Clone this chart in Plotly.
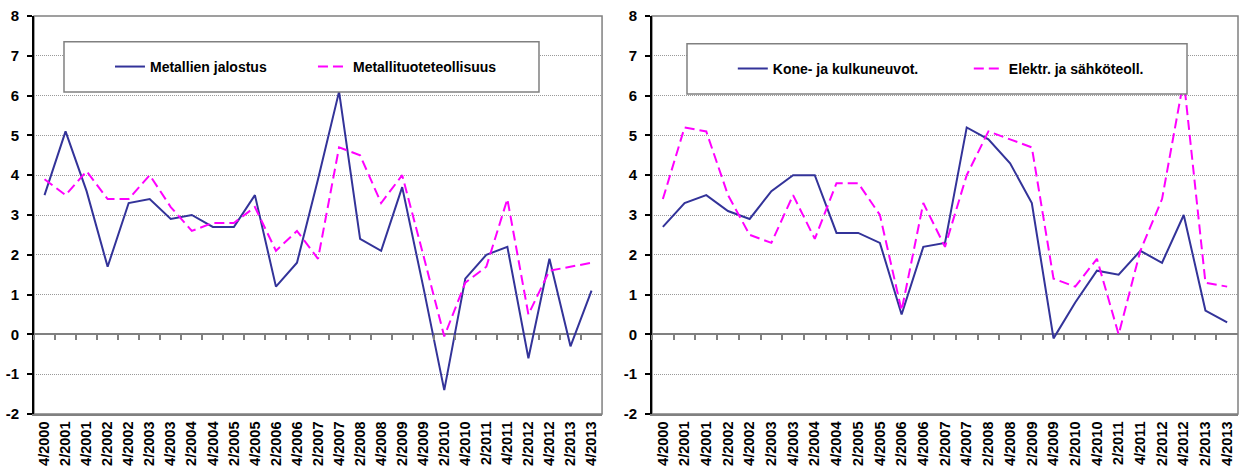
import plotly.graph_objects as go

categories = ["4/2000", "2/2001", "4/2001", "2/2002", "4/2002", "2/2003", "4/2003",
              "2/2004", "4/2004", "2/2005", "4/2005", "2/2006", "4/2006", "2/2007",
              "4/2007", "2/2008", "4/2008", "2/2009", "4/2009", "2/2010", "4/2010",
              "2/2011", "4/2011", "2/2012", "4/2012", "2/2013", "4/2013"]

metallien_jalostus = [3.5, 5.1, 3.6, 1.7, 3.3, 3.4, 2.9, 3.0, 2.7, 2.7, 3.5, 1.2, 1.8, 3.9,
                      6.1, 2.4, 2.1, 3.7, 1.2, -1.4, 1.4, 2.0, 2.2, -0.6, 1.9, -0.3, 1.1]
metallituoteteollisuus = [3.9, 3.5, 4.1, 3.4, 3.4, 4.0, 3.2, 2.6, 2.8, 2.8, 3.2, 2.1, 2.6, 1.9,
                          4.7, 4.5, 3.3, 4.0, 2.0, -0.05, 1.3, 1.7, 3.4, 0.5, 1.6, 1.7, 1.8]
kone_ja_kulkuneuvot = [2.7, 3.3, 3.5, 3.1, 2.9, 3.6, 4.0, 4.0, 2.55, 2.55, 2.3, 0.5, 2.2, 2.3,
                       5.2, 4.9, 4.3, 3.3, -0.1, 0.8, 1.6, 1.5, 2.1, 1.8, 3.0, 0.6, 0.3]
elektr_ja_sahkoteoll = [3.4, 5.2, 5.1, 3.5, 2.5, 2.3, 3.5, 2.4, 3.8, 3.8, 3.0, 0.6, 3.3, 2.2,
                        4.0, 5.1, 4.9, 4.7, 1.4, 1.2, 1.9, 0.0, 2.1, 3.4, 6.4, 1.3, 1.2]

y_tickvals = [-2, -1, 0, 1, 2, 3, 4, 5, 6, 7, 8]
y_ticktext = ["-2", "-1", "0", "1", "2", "3", "4", "5", "6", "7", "8"]

BLUE = "#333399"
MAGENTA = "#FF00FF"
FONT = "Liberation Sans"
GRAY = "#808080"

fig = go.Figure()

fig.add_trace(go.Scatter(x=categories, y=metallien_jalostus, name="Metallien jalostus",
                         mode="lines", line=dict(color=BLUE, width=2),
                         xaxis="x", yaxis="y", legend="legend"))
fig.add_trace(go.Scatter(x=categories, y=metallituoteteollisuus, name="Metallituoteteollisuus",
                         mode="lines", line=dict(color=MAGENTA, width=2, dash="10px,5px"),
                         xaxis="x", yaxis="y", legend="legend"))
fig.add_trace(go.Scatter(x=categories, y=kone_ja_kulkuneuvot, name="Kone- ja kulkuneuvot.",
                         mode="lines", line=dict(color=BLUE, width=2),
                         xaxis="x2", yaxis="y2", legend="legend2"))
fig.add_trace(go.Scatter(x=categories, y=elektr_ja_sahkoteoll, name="Elektr. ja sähköteoll.",
                         mode="lines", line=dict(color=MAGENTA, width=2, dash="10px,5px"),
                         xaxis="x2", yaxis="y2", legend="legend2"))
# invisible helper traces for the tick axes on the zero line
fig.add_trace(go.Scatter(x=categories, y=[None] * len(categories), xaxis="x3", yaxis="y",
                         showlegend=False, hoverinfo="skip"))
fig.add_trace(go.Scatter(x=categories, y=[None] * len(categories), xaxis="x4", yaxis="y2",
                         showlegend=False, hoverinfo="skip"))

tickfont = dict(family=FONT, size=14.5, color="black", weight="bold")
ytickfont = dict(family=FONT, size=15, color="black", weight="bold")

def xaxis_main(domain, anchor):
    return dict(domain=domain, anchor=anchor, type="category",
                categoryorder="array", categoryarray=categories,
                range=[-0.5, len(categories) - 0.5], automargin=False,
                tickangle=-90, ticks="", showline=True, linecolor=GRAY, linewidth=1.5,
                showgrid=False, tickfont=tickfont, fixedrange=True, ticklabelstandoff=0)

def xaxis_zero(overlay):
    return dict(overlaying=overlay, anchor="free", position=0.2, type="category",
                categoryorder="array", categoryarray=categories,
                range=[-0.5, len(categories) - 0.5], automargin=False,
                ticks="outside", ticklen=5, tickwidth=1.5, tickcolor=GRAY,
                tickson="boundaries", showticklabels=False, showline=False,
                showgrid=False, zeroline=False)

def yaxis(anchor):
    return dict(domain=[0, 1], anchor=anchor, range=[-2, 8],
                tickmode="array", tickvals=y_tickvals, ticktext=y_ticktext, automargin=False,
                showgrid=True, gridcolor="#999999", griddash="1px,1px", gridwidth=1.2,
                showline=True, linecolor="black", linewidth=2,
                ticks="outside", ticklen=5, tickwidth=1.5, tickcolor="black",
                zeroline=True, zerolinecolor=GRAY, zerolinewidth=1.5,
                tickfont=ytickfont, ticklabelstandoff=5, fixedrange=True)

fig.update_layout(
    width=1240, height=470,
    margin=dict(l=34, r=2, t=16, b=56),
    paper_bgcolor="white", plot_bgcolor="white",
    xaxis=xaxis_main([0, 0.4718], "y"),
    xaxis2=xaxis_main([0.5133, 1.0], "y2"),
    xaxis3=xaxis_zero("x"),
    xaxis4=xaxis_zero("x2"),
    yaxis=yaxis("x"),
    yaxis2=yaxis("x2"),
    legend=dict(orientation="h", x=0.0631, xanchor="left", y=0.872, yanchor="middle",
                bgcolor="rgba(0,0,0,0)", borderwidth=0, entrywidth=158,
                font=dict(family=FONT, size=14, color="black", weight="bold")),
    legend2=dict(orientation="h", x=0.5804, xanchor="left", y=0.867, yanchor="middle",
                 bgcolor="rgba(0,0,0,0)", borderwidth=0, entrywidth=191,
                 font=dict(family=FONT, size=14, color="black", weight="bold")),
    shapes=[
        dict(type="rect", xref="x domain", yref="y domain", x0=0, x1=1, y0=0, y1=1,
             line=dict(color=GRAY, width=1.5), layer="below"),
        dict(type="rect", xref="x2 domain", yref="y2 domain", x0=0, x1=1, y0=0, y1=1,
             line=dict(color=GRAY, width=1.5), layer="below"),
        dict(type="rect", xref="x domain", yref="y domain", x0=0.0528, x1=0.889,
             y0=0.809, y1=0.935, fillcolor="white", line=dict(color=GRAY, width=1.5),
             layer="above"),
        dict(type="rect", xref="x2 domain", yref="y2 domain", x0=0.0597, x1=0.913,
             y0=0.804, y1=0.930, fillcolor="white", line=dict(color=GRAY, width=1.5),
             layer="above"),
    ],
)

fig.write_html("out.html", config={"displayModeBar": False},
               post_script="document.body.style.margin='0px';document.body.style.overflow='hidden';")
